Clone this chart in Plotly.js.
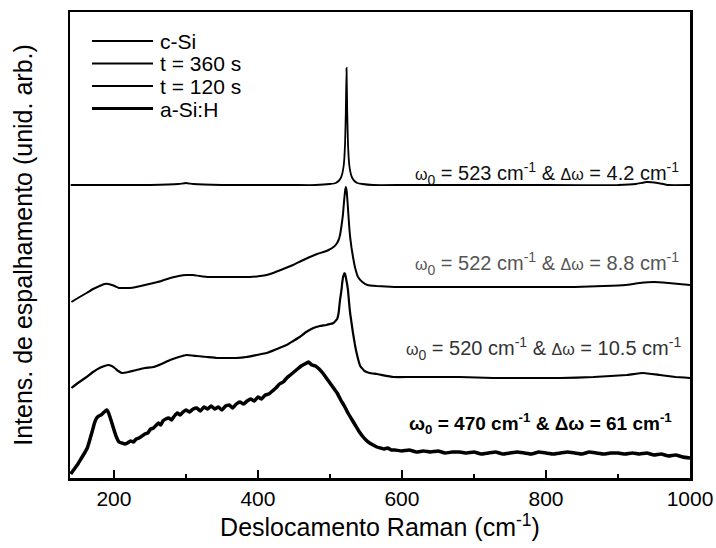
<!DOCTYPE html>
<html>
<head>
<meta charset="utf-8">
<script src="https://cdn.plot.ly/plotly-3.0.1.min.js"></script>
<style>html,body{margin:0;padding:0;background:#fff;}#chart{width:716px;height:548px;}</style>
</head>
<body>
<div id="chart"></div>
<script>
// Series names
const seriesNames = ["c-Si", "t = 360 s", "t = 120 s", "a-Si:H"];

// c-Si (crystalline reference)
const cSiX = [140,200,250,290,300,310,350,400,450,480,500,508,512,515,517,519,520,521,522,523,524,525,526,527,529,531,534,538,545,560,600,700,800,900,925,940,955,970,1000];
const cSiY = [293,293,293,294,295,294,293,293,293,293,294,295,297,300,304,312,320,335,365,410,365,335,320,312,304,300,297,295,294,293,293,293,293,293,294,296,295,293,293];

// t = 360 s
const t360X = [141,150,162,171,180,187,192,197,201,207,213,222,231,243,255,266,278,290,301,310,319,333,347,361,375,389,403,412,421,435,449,460,472,482,491,498,505,509,512,514,516,518,519,520,521,522,523,524,525,526,527,528,530,532,535,539,545,552,565,590,620,650,680,720,760,800,840,880,910,930,950,970,1000];
const t360Y = [176,180,185,189,192,194,194,193,192,190,190,190,191,193,195,197,200,202,203,203,202,201,201,201,201,201,202,203,205,209,213,217,221,224,226,228,231,234,238,243,252,263,272,280,287,291,288,280,270,259,249,241,230,221,210,201,196,193,192,191,191,191,191,191,191,191,191,192,193,195,196,195,193];

// t = 120 s
const t120X = [141,150,162,171,180,187,192,197,201,206,211,220,231,243,255,266,278,290,301,315,329,343,357,370,384,398,412,426,440,449,458,467,477,486,495,500,505,510,512,514,516,517,518,519,520,521,522,523,524,525,526,527,528,530,532,535,538,542,548,555,565,588,611,634,657,680,727,773,820,866,890,912,935,958,980,1000];
const t120Y = [90,95,101,106,110,112,113,112,110,107,105,106,108,110,111,114,118,121,123,122,121,120,120,120,121,123,125,129,133,137,141,146,150,152,153,154,155,159,165,178,188,195,200,203,205,204,201,197,193,188,180,172,165,155,145,132,122,112,107,105,104,101,101,101,101,101,100,100,100,101,102,103,105,103,101,100];

// a-Si:H
const aSiX = [140,145,150,155,160,163,166,170,173,176,179,182,185,188,190,192,195,198,201,204,207,211,215,219,223,227,231,235,239,243,247,251,255,259,262,265,268,272,276,280,284,288,292,296,300,305,310,315,320,325,330,335,340,345,350,355,360,365,370,375,380,385,390,395,400,405,410,415,420,425,430,435,440,445,450,455,460,465,470,475,480,485,490,495,500,505,510,515,520,525,530,535,540,545,550,555,560,565,570,575,580,585,590,600,610,620,630,640,650,660,670,680,690,700,710,720,730,740,750,760,770,780,790,800,810,820,830,840,850,860,870,880,890,900,910,920,930,940,950,960,970,980,990,1000];
const aSiY = [4,9,14,20,26,30,37,47,55,60,62,63,65,67,68,66,60,53,46,40,36,35,34,35,37,36,39,40,42,44,45,49,50,53,55,53,57,59,60,58,62,65,63,66,68,66,69,70,67,71,69,72,69,71,68,72,73,70,74,76,74,77,79,77,81,79,83,84,87,90,94,96,100,103,106,109,112,114,116,113,112,109,105,100,95,90,85,78,72,65,59,53,47,42,38,35,33,31,30,29,30,28,28,27,28,26,27,26,27,25,26,26,25,26,24,25,26,24,25,26,25,24,26,25,24,25,26,25,24,26,25,24,25,25,24,25,24,25,23,24,22,23,21,20];

// Peak annotations
const peakLabels = [
  "<span style='font-size:16px'>ω</span><sub>0</sub> = 523 cm<sup>-1</sup> & <span style='font-size:16px'>Δω</span> = 4.2 cm<sup>-1</sup>",
  "<span style='font-size:16px'>ω</span><sub>0</sub> = 522 cm<sup>-1</sup> & <span style='font-size:16px'>Δω</span> = 8.8 cm<sup>-1</sup>",
  "<span style='font-size:16px'>ω</span><sub>0</sub> = 520 cm<sup>-1</sup> & <span style='font-size:16px'>Δω</span> = 10.5 cm<sup>-1</sup>",
  "<b>ω<sub>0</sub> = 470 cm<sup>-1</sup> & Δω = 61 cm<sup>-1</sup></b>"
];
const peakLabelY = [305, 215, 130, 55];
const peakLabelX = [987, 987, 990, 978];

// Axis ticks
const xTickVals = [200, 400, 600, 800, 1000];
const xTickText = ["200", "400", "600", "800", "1000"];

const FONT = "Liberation Sans, Arial, sans-serif";

const xs = [cSiX, t360X, t120X, aSiX];
const ys = [cSiY, t360Y, t120Y, aSiY];
const widths = [1.8, 2, 2.2, 3.5];
const legendWidths = [2, 2, 2, 3];

const traces = seriesNames.map((n, i) => ({
  type: "scatter",
  mode: "lines",
  name: n,
  x: xs[i],
  y: ys[i],
  showlegend: false,
  line: {color: "#000", width: widths[i], shape: "spline", smoothing: 0.3}
}));

const labelColors = ["#111", "#555", "#333", "#000"];
const labelSizes = [20, 20, 20, 19];
const annotations = peakLabels.map((t, i) => ({
  x: peakLabelX[i], y: peakLabelY[i], xref: "x", yref: "y",
  xanchor: "right", yanchor: "middle",
  text: t, showarrow: false,
  font: {family: FONT, size: labelSizes[i], color: labelColors[i]}
}));

// Legend drawn in the top-left corner (paper coordinates)
const legRowY = [0.9378, 0.8895, 0.8412, 0.7929];
const shapes = [];
seriesNames.forEach((n, i) => {
  shapes.push({type: "line", xref: "paper", yref: "paper",
    x0: 0.0355, x1: 0.1339, y0: legRowY[i], y1: legRowY[i],
    line: {color: "#000", width: legendWidths[i]}});
  annotations.push({xref: "paper", yref: "paper", x: 0.1419, y: legRowY[i],
    xanchor: "left", yanchor: "middle", text: n, showarrow: false,
    height: 22, valign: "middle",
    font: {family: FONT, size: 21, color: "#000"}});
});

const layout = {
  width: 716, height: 548,
  margin: {l: 70, r: 26, t: 12, b: 70},
  paper_bgcolor: "#fff", plot_bgcolor: "#fff",
  showlegend: false,
  xaxis: {
    range: [139, 1000],
    tickvals: xTickVals, ticktext: xTickText,
    ticks: "inside", ticklen: 8, tickwidth: 2, tickcolor: "#000",
    minor: {ticks: "inside", ticklen: 4, tickwidth: 2, tickcolor: "#000", dtick: 100, tick0: 0, showgrid: false},
    showline: true, linecolor: "#000", linewidth: 2.5, mirror: true,
    showgrid: false, zeroline: false,
    tickfont: {family: FONT, size: 21, color: "#000"},
    title: {text: "Deslocamento Raman (cm<sup>-1</sup>)", font: {family: FONT, size: 25, color: "#000"}, standoff: 6}
  },
  yaxis: {
    range: [0, 466],
    showticklabels: false, ticks: "",
    showline: true, linecolor: "#000", linewidth: 2.5, mirror: true,
    showgrid: false, zeroline: false,
    title: {text: "Intens. de espalhamento (unid. arb.)", font: {family: FONT, size: 25, color: "#000"}, standoff: 28}
  },
  shapes: shapes,
  annotations: annotations
};

Plotly.newPlot("chart", traces, layout, {displayModeBar: false, staticPlot: true});
</script>
</body>
</html>
